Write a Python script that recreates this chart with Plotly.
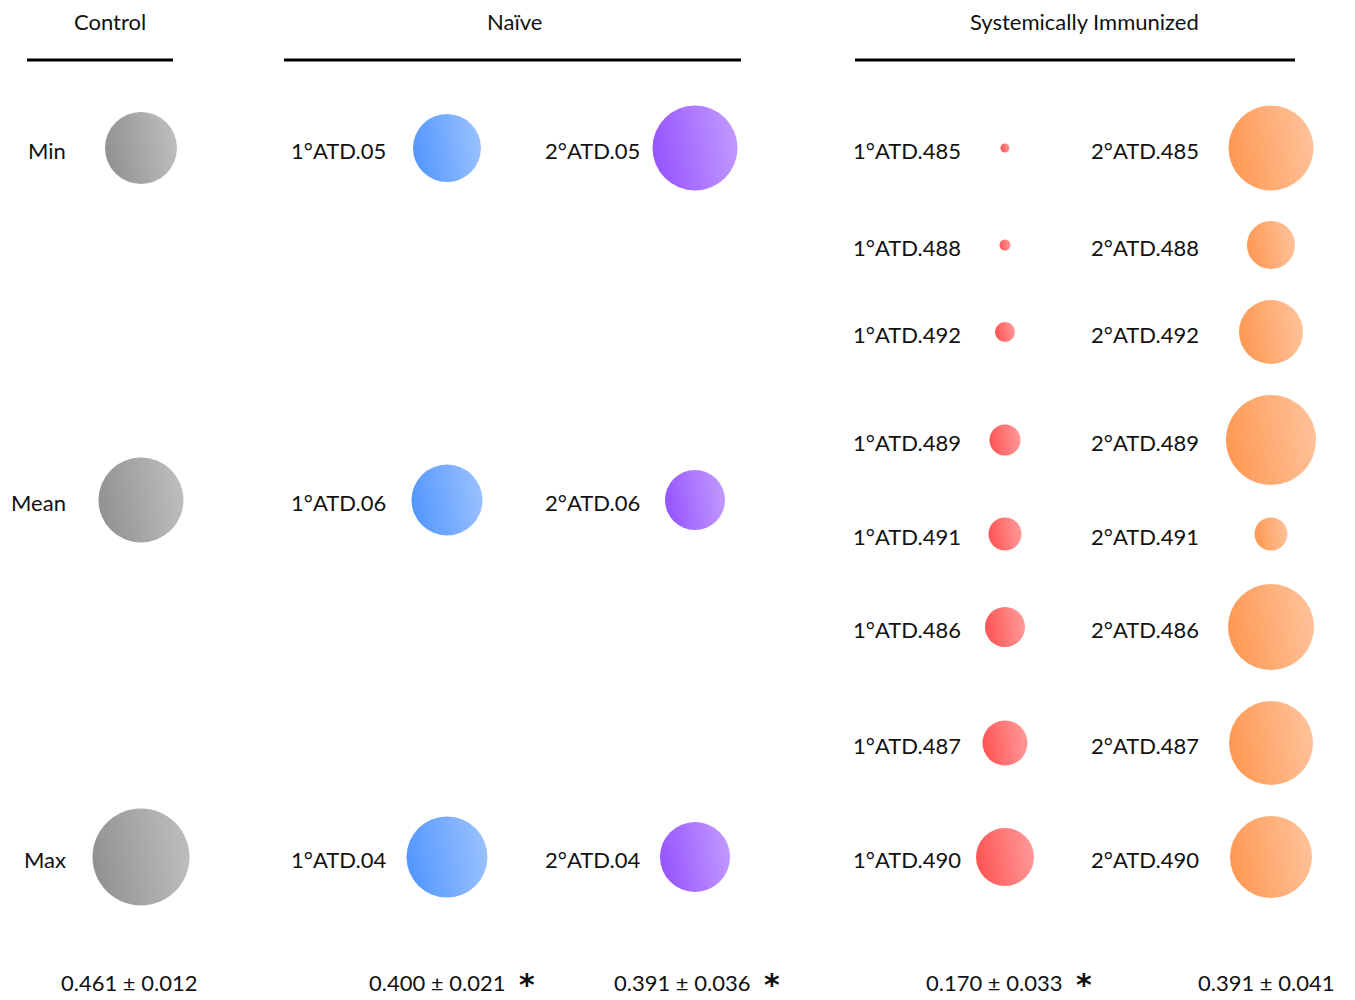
import plotly.graph_objects as go

# ---------------- data ----------------
control_labels = ["Min", "Mean", "Max"]
control_size = [72, 85, 97]

naive1_labels = ["1°ATD.05", "1°ATD.06", "1°ATD.04"]
naive1_size = [68, 71, 81]

naive2_labels = ["2°ATD.05", "2°ATD.06", "2°ATD.04"]
naive2_size = [85, 60, 70]

immun1_labels = ["1°ATD.485", "1°ATD.488", "1°ATD.492", "1°ATD.489",
                 "1°ATD.491", "1°ATD.486", "1°ATD.487", "1°ATD.490"]
immun1_size = [9, 11, 20, 31, 33, 40, 45, 58]

immun2_labels = ["2°ATD.485", "2°ATD.488", "2°ATD.492", "2°ATD.489",
                 "2°ATD.491", "2°ATD.486", "2°ATD.487", "2°ATD.490"]
immun2_size = [85, 48, 64, 90, 33, 86, 84, 82]

group_titles = ["Control", "Naïve", "Systemically Immunized"]
stats_text = ["0.461 ± 0.012", "0.400 ± 0.021", "0.391 ± 0.036",
              "0.170 ± 0.033", "0.391 ± 0.041"]
stats_signif = [False, True, True, True, False]

# ---------------- layout constants ----------------
W, H = 1355, 1000
OFF = 8  # page body margin compensation
ROWS3 = [148, 500, 857]
ROWS8 = [148, 245, 332, 440, 534, 627, 743, 857]
FONT = "Lato"

columns = [
    dict(labels=control_labels, sizes=control_size, rows=ROWS3, cx=141, lx=68,
         rgb=(92, 92, 92)),
    dict(labels=naive1_labels, sizes=naive1_size, rows=ROWS3, cx=447, lx=388,
         rgb=(0, 100, 255)),
    dict(labels=naive2_labels, sizes=naive2_size, rows=ROWS3, cx=695, lx=642,
         rgb=(100, 0, 255)),
    dict(labels=immun1_labels, sizes=immun1_size, rows=ROWS8, cx=1005, lx=963,
         rgb=(255, 0, 0)),
    dict(labels=immun2_labels, sizes=immun2_size, rows=ROWS8, cx=1271, lx=1201,
         rgb=(255, 102, 0)),
]


def rgba(rgb, a):
    return "rgba(%d,%d,%d,%.2f)" % (rgb[0], rgb[1], rgb[2], a)


def tint(rgb, t):
    return "rgb(%d,%d,%d)" % tuple(int(v + (255 - v) * t) for v in rgb)


header_x = [110, 514, 1084]
header_lines = [(27, 173), (284, 741), (855, 1295)]
stat_x = [129, 437, 682, 994, 1266]
star_x = [None, 527, 772, 1084, None]

fig = go.Figure()
annotations = []

WHITE = (255, 255, 255)
for col in columns:
    n = len(col["labels"])
    xs = [col["cx"]] * n
    c = col["rgb"]
    # sphere: pure colour on the left fading to a lighter tint on the right
    fig.add_trace(go.Scatter(
        x=xs, y=col["rows"], mode="markers",
        marker=dict(size=col["sizes"], sizemode="diameter", sizeref=1,
                    color=rgba(c, 1), line=dict(width=0),
                    gradient=dict(type="horizontal", color=tint(c, 0.4))),
        hoverinfo="text", text=col["labels"], showlegend=False))
    # soft highlight toward the top
    fig.add_trace(go.Scatter(
        x=xs, y=col["rows"], mode="markers",
        marker=dict(size=col["sizes"], sizemode="diameter", sizeref=1,
                    color=rgba(WHITE, 0.12), line=dict(width=0),
                    gradient=dict(type="vertical", color=rgba(WHITE, 0))),
        hoverinfo="skip", showlegend=False))
    for lab, yy in zip(col["labels"], col["rows"]):
        annotations.append(dict(x=col["lx"], y=yy + 2, text=lab, showarrow=False,
                                xanchor="right", yanchor="middle",
                                font=dict(family=FONT, size=22, color="#111")))

shapes = []
for title, hx, (x0, x1) in zip(group_titles, header_x, header_lines):
    annotations.append(dict(x=hx, y=21, text=title, showarrow=False,
                            xanchor="center", yanchor="middle",
                            font=dict(family=FONT, size=22, color="#111")))
    shapes.append(dict(type="line", x0=x0, x1=x1, y0=60, y1=60,
                       xref="x", yref="y", line=dict(color="black", width=3)))

for st, sx, sig, stx in zip(stats_text, stat_x, stats_signif, star_x):
    annotations.append(dict(x=sx, y=982, text=st, showarrow=False,
                            xanchor="center", yanchor="middle",
                            font=dict(family=FONT, size=22, color="#111")))
    if sig:
        annotations.append(dict(x=stx, y=984, text="<b>*</b>", showarrow=False,
                                xanchor="center", yanchor="middle",
                                font=dict(family="DejaVu Sans", size=30, color="#111")))

fig.update_layout(
    width=W, height=H, margin=dict(l=0, r=0, t=0, b=0),
    plot_bgcolor="white", paper_bgcolor="white",
    xaxis=dict(range=[OFF, W + OFF], visible=False, fixedrange=True),
    yaxis=dict(range=[H + OFF, OFF], visible=False, fixedrange=True),
    annotations=annotations, shapes=shapes, showlegend=False)

fig.write_html("out.html")
